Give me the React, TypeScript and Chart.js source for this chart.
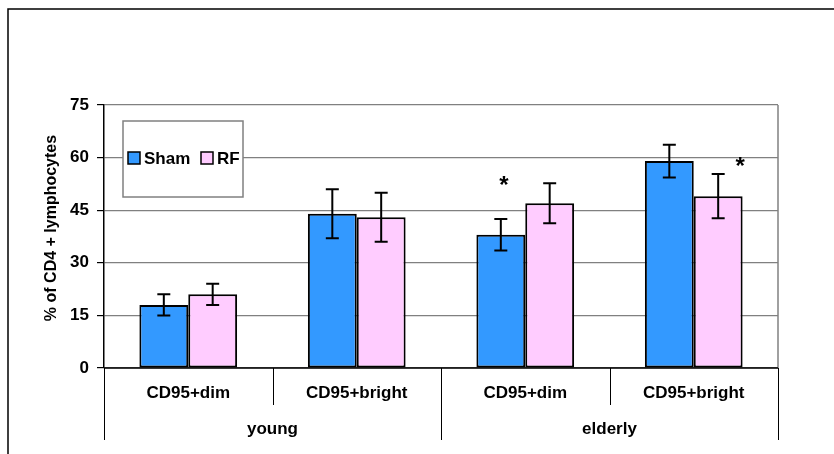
import React, { useEffect, useRef } from "react";
import { Chart, registerables } from "chart.js";

Chart.register(...registerables);

const categories = ["CD95+dim", "CD95+bright", "CD95+dim", "CD95+bright"];
const groups = ["young", "elderly"];
const shamValues = [18, 44, 38, 59];
const shamErrors = [3, 7, 4.5, 4.7];
const rfValues = [21, 43, 47, 49];
const rfErrors = [3, 7, 5.7, 6.3];
// significance marks: [category index, dataset index, level (in % units)]
const starCategory = [2, 3];
const starDataset = [0, 1];
const starLevel = [53.8, 59.4];
const yTicks = [0, 15, 30, 45, 60, 75];
const yTitle = "% of CD4 + lymphocytes";

const FONT = "'Liberation Sans', Arial, Helvetica, sans-serif";
const SHAM_COLOR = "#3399FF";
const RF_COLOR = "#FFCCFF";

const W = 834;
const H = 454;

export default function App() {
  const ref = useRef<HTMLCanvasElement | null>(null);

  useEffect(() => {
    const canvas = ref.current;
    if (!canvas) return;
    const errs = [shamErrors, rfErrors];

    const decor = {
      id: "decor",
      beforeDraw(chart: any) {
        const ctx = chart.ctx;
        ctx.save();
        ctx.fillStyle = "#fff";
        ctx.fillRect(0, 0, W, H);
        ctx.strokeStyle = "#000";
        ctx.lineWidth = 1.5;
        ctx.beginPath();
        ctx.moveTo(8, H);
        ctx.lineTo(8, 9);
        ctx.lineTo(W, 9);
        ctx.stroke();
        ctx.restore();
      },
      afterDatasetsDraw(chart: any) {
        const ctx = chart.ctx;
        const yS = chart.scales.y;
        ctx.save();
        ctx.strokeStyle = "#000";
        ctx.lineWidth = 2;
        [0, 1].forEach((d) => {
          const meta = chart.getDatasetMeta(d);
          const vals = chart.data.datasets[d].data as number[];
          meta.data.forEach((bar: any, i: number) => {
            const x = bar.x;
            const top = yS.getPixelForValue(vals[i] + errs[d][i]);
            const bot = yS.getPixelForValue(vals[i] - errs[d][i]);
            ctx.beginPath();
            ctx.moveTo(x, top);
            ctx.lineTo(x, bot);
            ctx.moveTo(x - 6.5, top);
            ctx.lineTo(x + 6.5, top);
            ctx.moveTo(x - 6.5, bot);
            ctx.lineTo(x + 6.5, bot);
            ctx.stroke();
          });
        });
        // stars
        ctx.fillStyle = "#000";
        ctx.font = `bold 24px ${FONT}`;
        ctx.textAlign = "center";
        ctx.textBaseline = "alphabetic";
        const offs = [3, 22];
        starCategory.forEach((c, k) => {
          const bar = chart.getDatasetMeta(starDataset[k]).data[c] as any;
          const y = yS.getPixelForValue(starLevel[k]);
          ctx.fillText("*", bar.x + offs[k], y + 14);
        });
        ctx.restore();
      },
      afterDraw(chart: any) {
        const ctx = chart.ctx;
        const xS = chart.scales.x;
        const area = chart.chartArea;
        const left = area.left;
        const right = area.right;
        const bottom = area.bottom;
        const catW = (right - left) / categories.length;
        ctx.save();
        // right border
        ctx.strokeStyle = "#808080";
        ctx.lineWidth = 1.5;
        ctx.beginPath();
        ctx.moveTo(right, area.top);
        ctx.lineTo(right, bottom);
        ctx.stroke();
        // x axis line
        ctx.strokeStyle = "#000";
        ctx.lineWidth = 1.5;
        ctx.beginPath();
        ctx.moveTo(left, bottom);
        ctx.lineTo(right, bottom);
        ctx.stroke();
        // separators
        ctx.lineWidth = 1;
        for (let i = 0; i <= categories.length; i++) {
          const x = Math.round(left + i * catW) + 0.5;
          const isGroup = i % 2 === 0;
          ctx.beginPath();
          ctx.moveTo(x, bottom);
          ctx.lineTo(x, isGroup ? 440 : 405);
          ctx.stroke();
        }
        // labels
        ctx.fillStyle = "#000";
        ctx.font = `bold 17px ${FONT}`;
        ctx.textAlign = "center";
        ctx.textBaseline = "middle";
        categories.forEach((c, i) => {
          ctx.fillText(c, xS.getPixelForValue(i), 393);
        });
        groups.forEach((g, i) => {
          const x = (xS.getPixelForValue(i * 2) + xS.getPixelForValue(i * 2 + 1)) / 2;
          ctx.fillText(g, x, 429);
        });
        // y title
        ctx.font = `bold 16px ${FONT}`;
        ctx.save();
        ctx.translate(52, 228);
        ctx.rotate(-Math.PI / 2);
        ctx.fillText(yTitle, 0, 0);
        ctx.restore();
        // legend
        ctx.fillStyle = "#fff";
        ctx.fillRect(123, 121, 120, 76);
        ctx.strokeStyle = "#808080";
        ctx.lineWidth = 1.5;
        ctx.strokeRect(123, 121, 120, 76);
        const items = chart.data.datasets.map((d: any) => ({ label: d.label, color: d.backgroundColor }));
        const xs = [128, 201];
        items.forEach((it: any, k: number) => {
          ctx.fillStyle = it.color;
          ctx.fillRect(xs[k], 152, 12, 12);
          ctx.strokeStyle = "#000";
          ctx.lineWidth = 1.5;
          ctx.strokeRect(xs[k], 152, 12, 12);
          ctx.fillStyle = "#000";
          ctx.textAlign = "left";
          ctx.textBaseline = "middle";
          ctx.font = `bold 17px ${FONT}`;
          ctx.fillText(it.label, xs[k] + 16, 159);
        });
        ctx.restore();
      },
    };

    const chart = new Chart(canvas, {
      type: "bar",
      data: {
        labels: categories,
        datasets: [
          {
            label: "Sham",
            data: shamValues,
            backgroundColor: SHAM_COLOR,
            borderColor: "#000",
            borderWidth: 2,
            borderSkipped: false,
            categoryPercentage: 0.58,
            barPercentage: 1,
          },
          {
            label: "RF",
            data: rfValues,
            backgroundColor: RF_COLOR,
            borderColor: "#000",
            borderWidth: 2,
            borderSkipped: false,
            categoryPercentage: 0.58,
            barPercentage: 1,
          },
        ],
      },
      options: {
        responsive: false,
        animation: false,
        devicePixelRatio: 1,
        layout: { padding: { left: 0, top: 105, right: W - 778, bottom: H - 368 } },
        plugins: { legend: { display: false }, tooltip: { enabled: false } },
        scales: {
          x: { display: false },
          y: {
            min: 0,
            max: 75,
            afterFit(scale: any) {
              scale.width = 104;
            },
            afterBuildTicks(scale: any) {
              scale.ticks = yTicks.map((v) => ({ value: v }));
            },
            border: { color: "#000", width: 1.5 },
            grid: { color: "#808080", tickColor: "#000", tickLength: 7, lineWidth: 1.2 },
            ticks: {
              color: "#000",
              padding: 8,
              font: { family: FONT, size: 17, weight: "bold" },
            },
          },
        },
      },
      plugins: [decor],
    } as any);

    return () => chart.destroy();
  }, []);

  return (
    <div style={{ position: "absolute", left: 0, top: 0, width: W, height: H }}>
      <canvas ref={ref} width={W} height={H} style={{ display: "block", width: W, height: H }} />
    </div>
  );
}
